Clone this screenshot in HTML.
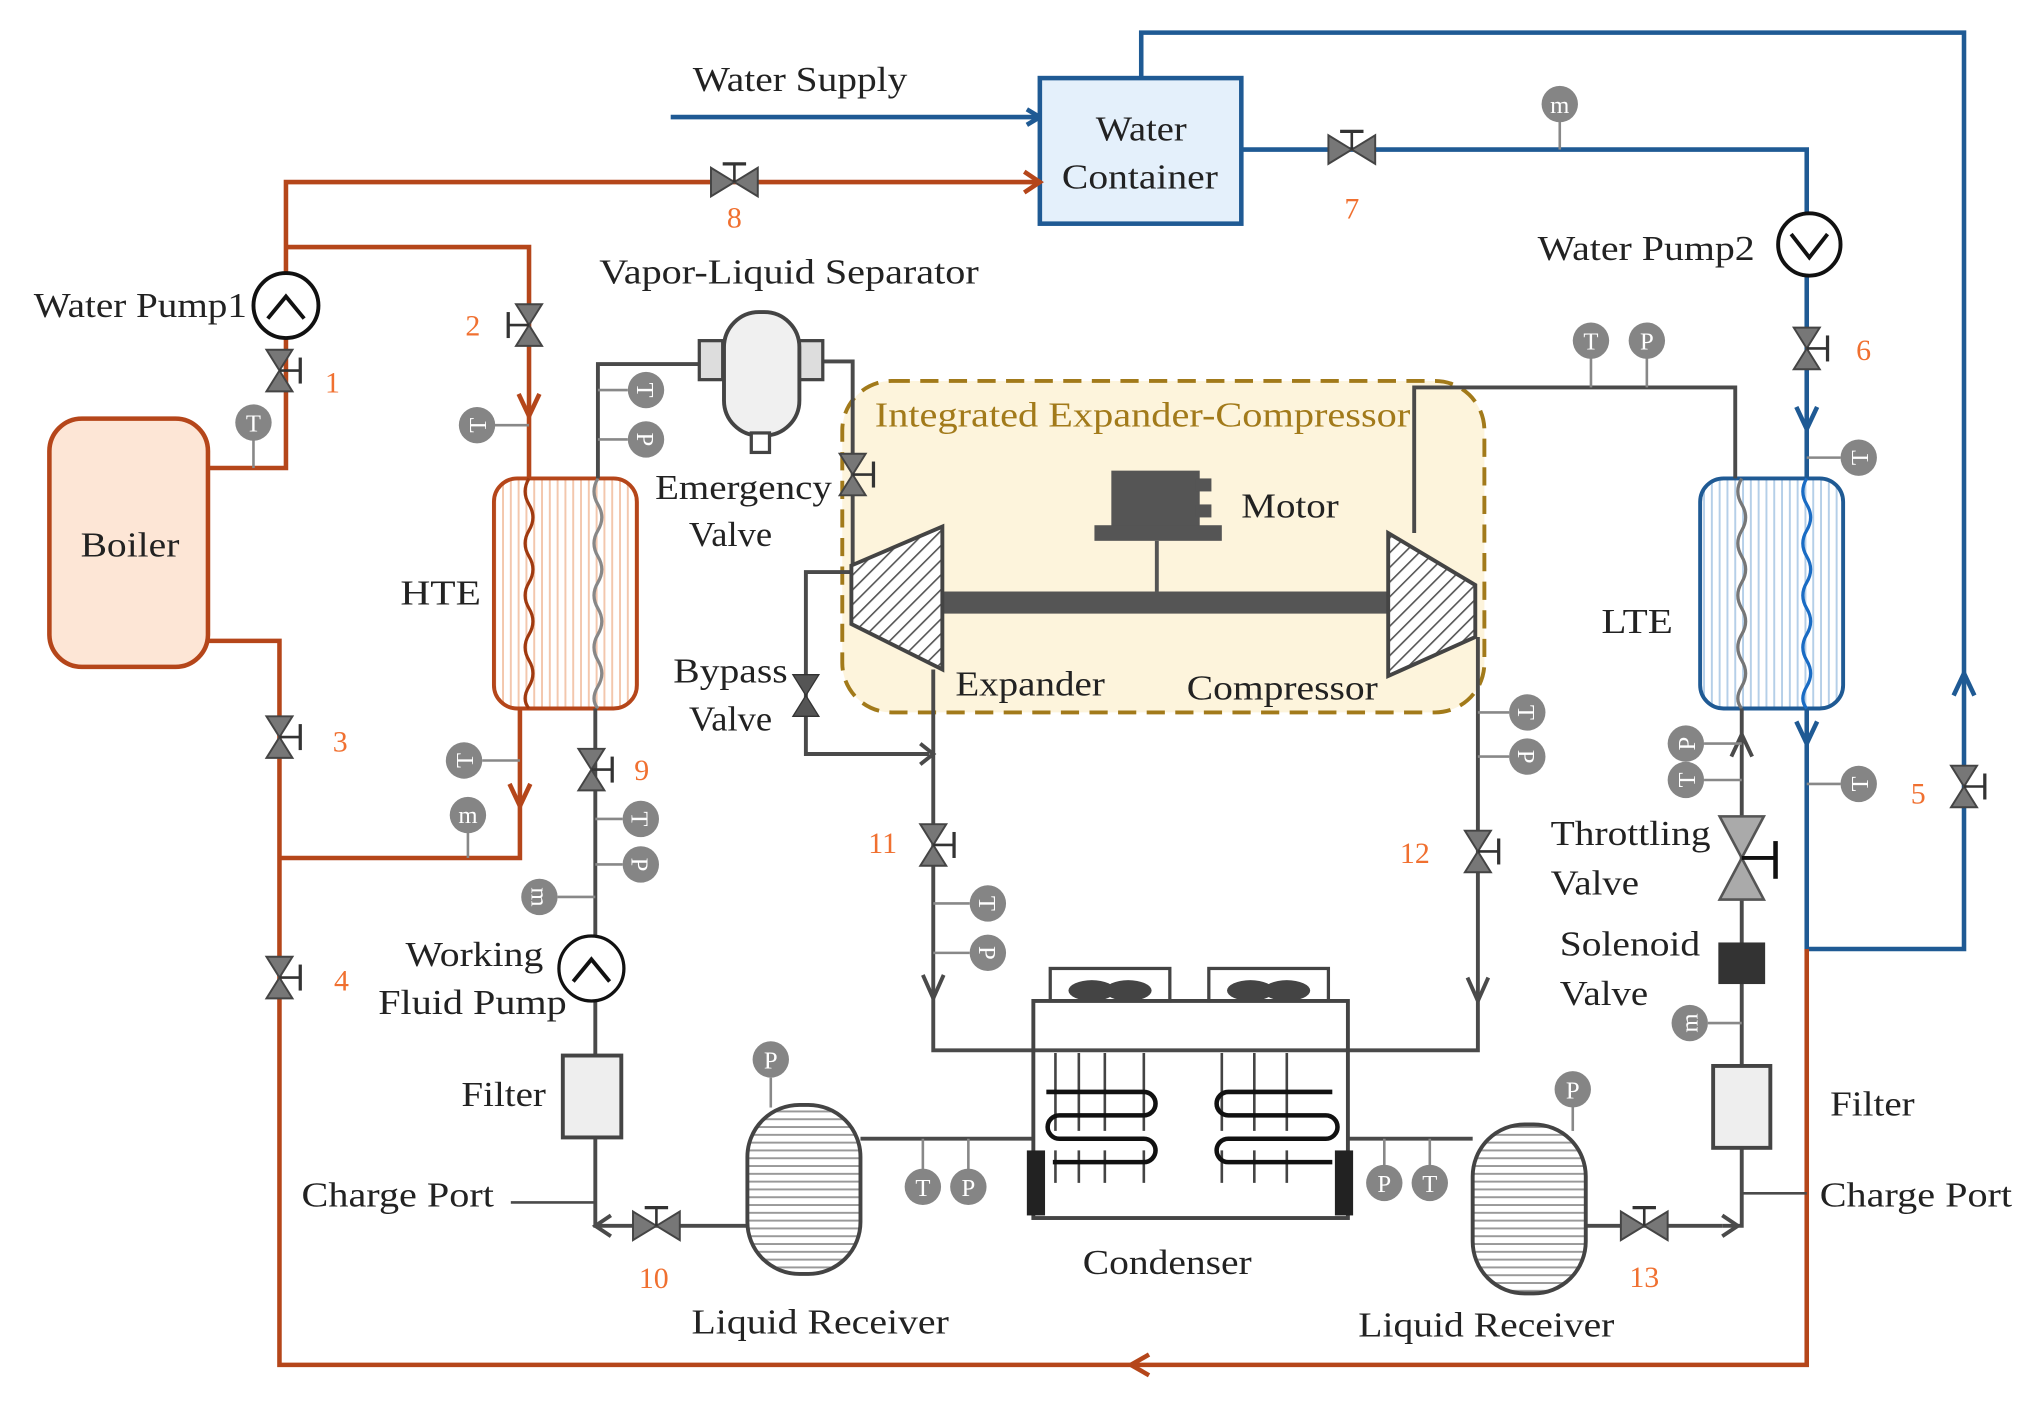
<!DOCTYPE html>
<html><head><meta charset="utf-8"><style>
html,body{margin:0;padding:0;background:#fff;}
svg{display:block;}
text{font-family:"Liberation Serif",serif;}
</style></head><body>
<svg width="2029" height="1404" viewBox="0 0 1561 1080" xmlns="http://www.w3.org/2000/svg">
<defs>
<pattern id="hatch" width="8" height="8" patternUnits="userSpaceOnUse" patternTransform="rotate(45)"><rect width="8" height="8" fill="#fff"/><line x1="0" y1="0" x2="0" y2="8" stroke="#555" stroke-width="2.5"/></pattern>
<pattern id="vst" width="6" height="6" patternUnits="userSpaceOnUse"><rect width="6" height="6" fill="#fff"/><line x1="3" y1="0" x2="3" y2="6" stroke="#f3c7ad" stroke-width="1.5"/></pattern>
<pattern id="vstb" width="6" height="6" patternUnits="userSpaceOnUse"><rect width="6" height="6" fill="#fff"/><line x1="3" y1="0" x2="3" y2="6" stroke="#b5cfe8" stroke-width="1.5"/></pattern>
<pattern id="hst" width="6" height="6" patternUnits="userSpaceOnUse"><rect width="6" height="6" fill="#fff"/><line x1="0" y1="3" x2="6" y2="3" stroke="#999" stroke-width="1.5"/></pattern>
<g id="vv"><polygon points="-10,-16 10,-16 0,0" fill="#777" stroke="#444" stroke-width="1.5"/><polygon points="-10,16 10,16 0,0" fill="#777" stroke="#444" stroke-width="1.5"/><line x1="0" y1="0" x2="16" y2="0" stroke="#333" stroke-width="2"/><line x1="16" y1="-10" x2="16" y2="10" stroke="#333" stroke-width="2.5"/></g>
<g id="hv"><polygon points="-18,-11 -18,11 0,0" fill="#777" stroke="#444" stroke-width="1.5"/><polygon points="18,-11 18,11 0,0" fill="#777" stroke="#444" stroke-width="1.5"/><line x1="0" y1="0" x2="0" y2="-14" stroke="#333" stroke-width="2"/><line x1="-9" y1="-14" x2="9" y2="-14" stroke="#333" stroke-width="2.5"/></g>
<g id="gc"><circle r="14" fill="#858585"/></g>
</defs>
<style>
.gl{font-size:19px;fill:#fff;text-anchor:middle;}
.lb{font-size:27px;fill:#222;}
.nm{font-size:23px;fill:#f07030;}
</style>

<rect x="648" y="293" width="494" height="255" rx="38" fill="#fdf4dc" stroke="#a27a1a" stroke-width="3" stroke-dasharray="14,8"/>
<text x="673" y="328" font-size="27" fill="#a27a1a" textLength="412" lengthAdjust="spacingAndGlyphs">Integrated  Expander-Compressor</text>

<g stroke="#1f5a94" stroke-width="3.5" fill="none">
<line x1="516" y1="90" x2="798" y2="90"/>
<polyline points="878,60 878,25 1511,25 1511,730 1390,730 1390,545"/>
<polyline points="955,115 1390,115 1390,368"/>
<line x1="1200" y1="115" x2="1200" y2="92" stroke="#888" stroke-width="2"/>
<line x1="1390" y1="352" x2="1416" y2="352" stroke="#888" stroke-width="2"/>
<line x1="1390" y1="603" x2="1416" y2="603" stroke="#888" stroke-width="2"/>
<polyline points="1382,313 1390,330 1398,313"/>
<polyline points="1382,555 1390,572 1398,555"/>
<polyline points="1503,535 1511,518 1519,535"/>
<polyline points="790,84 800,90 790,96"/>
</g>
<rect x="800" y="60" width="155" height="112" fill="#e4f0fb" stroke="#1f5a94" stroke-width="3.5"/>
<text x="843" y="108" class="lb" textLength="70" lengthAdjust="spacingAndGlyphs">Water</text>
<text x="817" y="145" class="lb" textLength="120" lengthAdjust="spacingAndGlyphs">Container</text>
<text x="533" y="70" class="lb" textLength="165" lengthAdjust="spacingAndGlyphs">Water Supply</text>
<use href="#hv" x="1040" y="115"/><text x="1040" y="168" class="nm" text-anchor="middle">7</text>
<use href="#gc" x="1200" y="80"/><text x="1200" y="87" class="gl">m</text>
<circle cx="1392" cy="188" r="24" fill="#fff" stroke="#111" stroke-width="3"/>
<polyline points="1378,180 1392,198 1406,180" fill="none" stroke="#111" stroke-width="3"/>
<text x="1183" y="200" class="lb" textLength="167" lengthAdjust="spacingAndGlyphs">Water Pump2</text>
<use href="#vv" x="1390" y="268"/><text x="1428" y="277" class="nm">6</text>
<use href="#gc" x="1430" y="352"/><text x="1430" y="359" class="gl" transform="rotate(-90 1430 352)">T</text>
<use href="#gc" x="1430" y="603"/><text x="1430" y="610" class="gl" transform="rotate(-90 1430 603)">T</text>
<use href="#vv" x="1511" y="605"/><text x="1470" y="618" class="nm">5</text>

<rect x="1308" y="368" width="110" height="177" rx="18" fill="url(#vstb)" stroke="#1f5a94" stroke-width="3"/>
<path d="M1340,368 q-6,10 0,20 q6,10 0,20 q-6,10 0,20 q6,10 0,20 q-6,10 0,20 q6,10 0,20 q-6,10 0,20 q6,10 0,20 q-6,10 0,17" fill="none" stroke="#777" stroke-width="2.5"/>
<path d="M1390,368 q-6,10 0,20 q6,10 0,20 q-6,10 0,20 q6,10 0,20 q-6,10 0,20 q6,10 0,20 q-6,10 0,20 q6,10 0,20 q-6,10 0,17" fill="none" stroke="#1a6cc4" stroke-width="2.5"/>
<text x="1232" y="487" class="lb" textLength="55" lengthAdjust="spacingAndGlyphs">LTE</text>

<g stroke="#b5461a" stroke-width="3.5" fill="none">
<polyline points="160,360 220,360 220,140 798,140"/>
<polyline points="220,190 407,190 407,368"/>
<polyline points="160,493 215,493 215,1050 1390,1050 1390,730"/>
<polyline points="400,545 400,660 215,660"/>
<polyline points="399,303 407,320 415,303"/>
<polyline points="392,603 400,620 408,603"/>
<polyline points="788,132 800,140 788,148"/>
<polyline points="884,1042 870,1050 884,1058"/>
</g>
<rect x="38" y="322" width="122" height="191" rx="25" fill="#fde6d6" stroke="#b5461a" stroke-width="3.5"/>
<text x="62" y="428" class="lb" textLength="76" lengthAdjust="spacingAndGlyphs">Boiler</text>
<line x1="195" y1="338" x2="195" y2="360" stroke="#888" stroke-width="2"/>
<use href="#gc" x="195" y="325"/><text x="195" y="332" class="gl">T</text>
<use href="#vv" x="215" y="285"/><text x="250" y="302" class="nm">1</text>
<circle cx="220" cy="235" r="25" fill="#fff" stroke="#111" stroke-width="3"/>
<polyline points="206,245 220,228 234,245" fill="none" stroke="#111" stroke-width="3"/>
<text x="26" y="244" class="lb" textLength="164" lengthAdjust="spacingAndGlyphs">Water Pump1</text>
<use href="#hv" x="565" y="140"/><text x="565" y="175" class="nm" text-anchor="middle">8</text>
<g transform="translate(407,250) scale(-1,1)"><use href="#vv"/></g><text x="358" y="258" class="nm">2</text>
<line x1="380" y1="327" x2="407" y2="327" stroke="#888" stroke-width="2"/>
<use href="#gc" x="367" y="327"/><text x="367" y="334" class="gl" transform="rotate(-90 367 327)">T</text>
<use href="#vv" x="215" y="567"/><text x="256" y="578" class="nm">3</text>
<use href="#vv" x="215" y="752"/><text x="257" y="762" class="nm">4</text>
<line x1="371" y1="585" x2="400" y2="585" stroke="#888" stroke-width="2"/>
<use href="#gc" x="357" y="585"/><text x="357" y="592" class="gl" transform="rotate(-90 357 585)">T</text>
<line x1="360" y1="640" x2="360" y2="660" stroke="#888" stroke-width="2"/>
<use href="#gc" x="360" y="627"/><text x="360" y="633" class="gl">m</text>

<rect x="380" y="368" width="110" height="177" rx="18" fill="url(#vst)" stroke="#b5461a" stroke-width="3"/>
<path d="M407,368 q-6,10 0,20 q6,10 0,20 q-6,10 0,20 q6,10 0,20 q-6,10 0,20 q6,10 0,20 q-6,10 0,20 q6,10 0,20 q-6,10 0,17" fill="none" stroke="#a03a10" stroke-width="2.5"/>
<path d="M460,368 q-6,10 0,20 q6,10 0,20 q-6,10 0,20 q6,10 0,20 q-6,10 0,20 q6,10 0,20 q-6,10 0,20 q6,10 0,20 q-6,10 0,17" fill="none" stroke="#888" stroke-width="2.5"/>
<text x="308" y="465" class="lb" textLength="62" lengthAdjust="spacingAndGlyphs">HTE</text>

<g stroke="#4a4a4a" stroke-width="3" fill="none">
<polyline points="460,368 460,280 540,280"/>
<polyline points="625,278 656,278 656,440"/>
<polyline points="656,440 620,440 620,580 715,580"/>
<polyline points="718,515 718,808 1137,808 1137,490"/>
<polyline points="1088,410 1088,298 1335,298 1335,368"/>
<polyline points="1340,545 1340,943 1325,943"/>
<polyline points="1220,943 1325,943"/>
<line x1="1340" y1="918" x2="1390" y2="918" stroke-width="2"/>
<polyline points="458,545 458,943 575,943"/>
<line x1="393" y1="925" x2="458" y2="925" stroke-width="2"/>
<line x1="662" y1="876" x2="795" y2="876"/>
<line x1="1037" y1="876" x2="1133" y2="876"/>
<polyline points="708,572 718,580 708,588"/>
<polyline points="710,750 718,768 726,750"/>
<polyline points="1129,752 1137,770 1145,752"/>
<polyline points="1332,582 1340,565 1348,582"/>
<polyline points="470,935 458,943 470,951"/>
<polyline points="1325,935 1337,943 1325,951"/>
</g>
<g stroke="#888" stroke-width="2">
<line x1="460" y1="300" x2="483" y2="300"/><line x1="460" y1="338" x2="483" y2="338"/>
<line x1="458" y1="630" x2="479" y2="630"/><line x1="458" y1="665" x2="479" y2="665"/><line x1="429" y1="690" x2="458" y2="690"/>
<line x1="718" y1="695" x2="746" y2="695"/><line x1="718" y1="733" x2="746" y2="733"/>
<line x1="1137" y1="548" x2="1161" y2="548"/><line x1="1137" y1="582" x2="1161" y2="582"/>
<line x1="1224" y1="275" x2="1224" y2="298"/><line x1="1267" y1="275" x2="1267" y2="298"/>
<line x1="1311" y1="572" x2="1340" y2="572"/><line x1="1311" y1="600" x2="1340" y2="600"/><line x1="1314" y1="787" x2="1340" y2="787"/>
<line x1="593" y1="829" x2="593" y2="852"/><line x1="1210" y1="851" x2="1210" y2="870"/>
<line x1="710" y1="876" x2="710" y2="900"/><line x1="745" y1="876" x2="745" y2="900"/>
<line x1="1065" y1="876" x2="1065" y2="897"/><line x1="1100" y1="876" x2="1100" y2="897"/>
</g>
<use href="#gc" x="497" y="300"/><text x="497" y="307" class="gl" transform="rotate(90 497 300)">T</text>
<use href="#gc" x="497" y="338"/><text x="497" y="345" class="gl" transform="rotate(90 497 338)">P</text>
<use href="#gc" x="493" y="630"/><text x="493" y="637" class="gl" transform="rotate(90 493 630)">T</text>
<use href="#gc" x="493" y="665"/><text x="493" y="672" class="gl" transform="rotate(90 493 665)">P</text>
<use href="#gc" x="415" y="690"/><text x="415" y="696" class="gl" transform="rotate(90 415 690)">m</text>
<use href="#gc" x="760" y="695"/><text x="760" y="702" class="gl" transform="rotate(90 760 695)">T</text>
<use href="#gc" x="760" y="733"/><text x="760" y="740" class="gl" transform="rotate(90 760 733)">P</text>
<use href="#gc" x="1175" y="548"/><text x="1175" y="555" class="gl" transform="rotate(90 1175 548)">T</text>
<use href="#gc" x="1175" y="582"/><text x="1175" y="589" class="gl" transform="rotate(90 1175 582)">P</text>
<use href="#gc" x="1224" y="262"/><text x="1224" y="269" class="gl">T</text>
<use href="#gc" x="1267" y="262"/><text x="1267" y="269" class="gl">P</text>
<use href="#gc" x="1297" y="572"/><text x="1297" y="579" class="gl" transform="rotate(-90 1297 572)">P</text>
<use href="#gc" x="1297" y="600"/><text x="1297" y="607" class="gl" transform="rotate(-90 1297 600)">T</text>
<use href="#gc" x="1300" y="787"/><text x="1300" y="793" class="gl" transform="rotate(-90 1300 787)">m</text>
<use href="#gc" x="593" y="815"/><text x="593" y="822" class="gl">P</text>
<use href="#gc" x="1210" y="838"/><text x="1210" y="845" class="gl">P</text>
<use href="#gc" x="710" y="913"/><text x="710" y="920" class="gl">T</text>
<use href="#gc" x="745" y="913"/><text x="745" y="920" class="gl">P</text>
<use href="#gc" x="1065" y="910"/><text x="1065" y="917" class="gl">P</text>
<use href="#gc" x="1100" y="910"/><text x="1100" y="917" class="gl">T</text>

<rect x="538" y="262" width="18" height="30" fill="#ddd" stroke="#444" stroke-width="2.5"/>
<rect x="615" y="262" width="18" height="30" fill="#ddd" stroke="#444" stroke-width="2.5"/>
<rect x="557" y="240" width="58" height="95" rx="27" fill="#f0f0f0" stroke="#444" stroke-width="3"/>
<rect x="578" y="333" width="14" height="15" fill="#fff" stroke="#444" stroke-width="2.5"/>
<text x="461" y="218" class="lb" textLength="292" lengthAdjust="spacingAndGlyphs">Vapor-Liquid  Separator</text>
<use href="#vv" x="656" y="365"/>
<text x="504" y="384" class="lb" textLength="136" lengthAdjust="spacingAndGlyphs">Emergency</text>
<text x="530" y="420" class="lb" textLength="64" lengthAdjust="spacingAndGlyphs">Valve</text>
<g transform="translate(620,535)"><polygon points="-10,-16 10,-16 0,0" fill="#555" stroke="#333"/><polygon points="-10,16 10,16 0,0" fill="#555" stroke="#333"/></g>
<text x="518" y="525" class="lb" textLength="88" lengthAdjust="spacingAndGlyphs">Bypass</text>
<text x="530" y="562" class="lb" textLength="64" lengthAdjust="spacingAndGlyphs">Valve</text>

<rect x="725" y="455" width="343" height="17" fill="#555"/>
<polygon points="655,435 725,405 725,515 655,480" fill="url(#hatch)" stroke="#444" stroke-width="3"/>
<polygon points="1068,410 1135,450 1135,490 1068,520" fill="url(#hatch)" stroke="#444" stroke-width="3"/>
<rect x="855" y="362" width="68" height="45" fill="#555"/>
<rect x="842" y="404" width="98" height="12" fill="#555"/>
<rect x="920" y="368" width="12" height="10" fill="#555"/><rect x="920" y="388" width="12" height="10" fill="#555"/>
<line x1="890" y1="416" x2="890" y2="455" stroke="#555" stroke-width="3"/>
<text x="955" y="398" class="lb" textLength="75" lengthAdjust="spacingAndGlyphs">Motor</text>
<text x="735" y="535" class="lb" textLength="115" lengthAdjust="spacingAndGlyphs">Expander</text>
<text x="913" y="538" class="lb" textLength="147" lengthAdjust="spacingAndGlyphs">Compressor</text>
<use href="#vv" x="718" y="650"/><text x="668" y="656" class="nm">11</text>
<use href="#vv" x="1137" y="655"/><text x="1077" y="664" class="nm">12</text>
<use href="#vv" x="455" y="592"/><text x="488" y="600" class="nm">9</text>

<g transform="translate(1340,660)"><polygon points="-17,-32 17,-32 0,0" fill="#aaa" stroke="#555" stroke-width="2"/><polygon points="-17,32 17,32 0,0" fill="#aaa" stroke="#555" stroke-width="2"/><line x1="0" y1="0" x2="26" y2="0" stroke="#111" stroke-width="3"/><line x1="26" y1="-13" x2="26" y2="16" stroke="#111" stroke-width="3.5"/></g>
<text x="1193" y="650" class="lb" textLength="123" lengthAdjust="spacingAndGlyphs">Throttling</text>
<text x="1193" y="688" class="lb" textLength="68" lengthAdjust="spacingAndGlyphs">Valve</text>
<rect x="1322" y="725" width="36" height="32" fill="#333"/>
<text x="1200" y="735" class="lb" textLength="108" lengthAdjust="spacingAndGlyphs">Solenoid</text>
<text x="1200" y="773" class="lb" textLength="68" lengthAdjust="spacingAndGlyphs">Valve</text>
<rect x="1318" y="820" width="44" height="63" fill="#eee" stroke="#444" stroke-width="3"/>
<text x="1408" y="858" class="lb" textLength="65" lengthAdjust="spacingAndGlyphs">Filter</text>
<text x="1400" y="928" class="lb" textLength="148" lengthAdjust="spacingAndGlyphs">Charge Port</text>
<use href="#hv" x="1265" y="943"/><text x="1265" y="990" class="nm" text-anchor="middle">13</text>
<rect x="1133" y="865" width="87" height="130" rx="40" fill="url(#hst)" stroke="#444" stroke-width="3"/>
<text x="1045" y="1028" class="lb" textLength="197" lengthAdjust="spacingAndGlyphs">Liquid Receiver</text>

<circle cx="455" cy="745" r="25" fill="#fff" stroke="#111" stroke-width="2.5"/>
<polyline points="441,755 455,738 469,755" fill="none" stroke="#111" stroke-width="3"/>
<text x="312" y="743" class="lb" textLength="106" lengthAdjust="spacingAndGlyphs">Working</text>
<text x="291" y="780" class="lb" textLength="145" lengthAdjust="spacingAndGlyphs">Fluid Pump</text>
<rect x="433" y="812" width="45" height="63" fill="#eee" stroke="#444" stroke-width="3"/>
<text x="355" y="851" class="lb" textLength="65" lengthAdjust="spacingAndGlyphs">Filter</text>
<text x="232" y="928" class="lb" textLength="148" lengthAdjust="spacingAndGlyphs">Charge Port</text>
<use href="#hv" x="505" y="943"/><text x="503" y="991" class="nm" text-anchor="middle">10</text>
<rect x="575" y="850" width="87" height="130" rx="40" fill="url(#hst)" stroke="#444" stroke-width="3"/>
<text x="532" y="1026" class="lb" textLength="198" lengthAdjust="spacingAndGlyphs">Liquid Receiver</text>

<rect x="808" y="745" width="92" height="25" fill="#fff" stroke="#444" stroke-width="2.5"/>
<rect x="930" y="745" width="92" height="25" fill="#fff" stroke="#444" stroke-width="2.5"/>
<ellipse cx="840" cy="762" rx="18" ry="8" fill="#444"/><ellipse cx="868" cy="762" rx="18" ry="8" fill="#444"/>
<ellipse cx="962" cy="762" rx="18" ry="8" fill="#444"/><ellipse cx="990" cy="762" rx="18" ry="8" fill="#444"/>
<rect x="795" y="770" width="242" height="167" fill="none" stroke="#444" stroke-width="3"/>
<g stroke="#444" stroke-width="2">
<line x1="812" y1="810" x2="812" y2="910" stroke-dasharray="60,15"/><line x1="830" y1="810" x2="830" y2="910" stroke-dasharray="60,15"/>
<line x1="850" y1="810" x2="850" y2="910" stroke-dasharray="60,15"/><line x1="880" y1="810" x2="880" y2="910" stroke-dasharray="60,15"/>
<line x1="940" y1="810" x2="940" y2="910" stroke-dasharray="60,15"/><line x1="965" y1="810" x2="965" y2="910" stroke-dasharray="60,15"/>
<line x1="990" y1="810" x2="990" y2="910" stroke-dasharray="60,15"/>
</g>
<path d="M805,845 H880 a9,9 0 0 1 0,18 H815 a9,9 0 0 0 0,18 H880 a9,9 0 0 1 0,18 H810" fill="none" stroke="#111" stroke-width="3.5" transform="translate(0,-5)"/>
<path d="M1025,845 H945 a9,9 0 0 0 0,18 H1020 a9,9 0 0 1 0,18 H945 a9,9 0 0 0 0,18 H1025" fill="none" stroke="#111" stroke-width="3.5" transform="translate(0,-5)"/>
<rect x="790" y="885" width="14" height="50" fill="#222"/>
<rect x="1027" y="885" width="14" height="50" fill="#222"/>
<text x="833" y="980" class="lb" textLength="130" lengthAdjust="spacingAndGlyphs">Condenser</text>
</svg>
</body></html>
